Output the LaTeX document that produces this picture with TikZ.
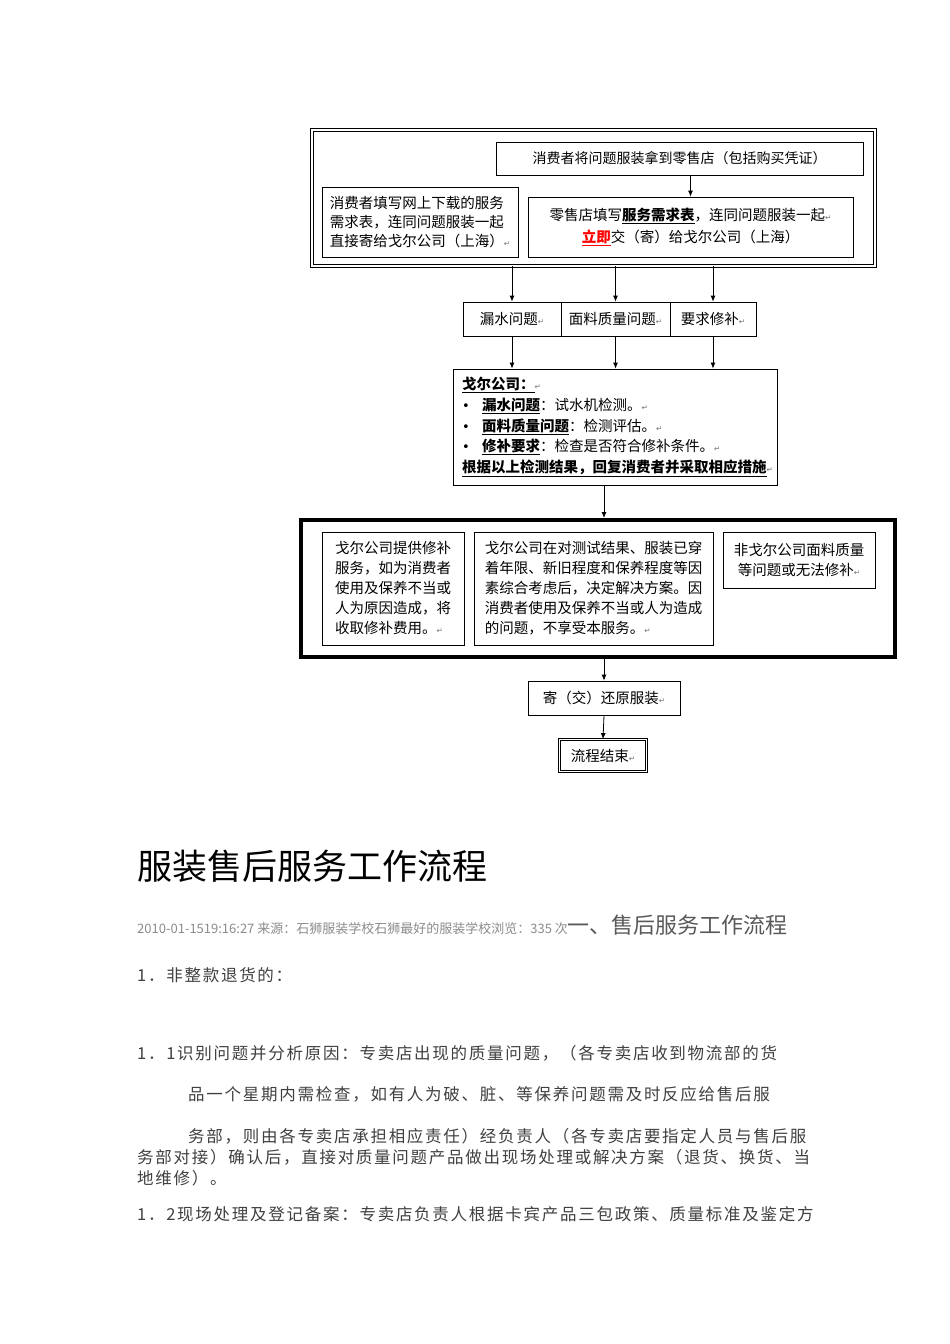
\documentclass[tikz,border=0pt]{standalone}
\usepackage{fontspec}
\setmainfont{Noto Sans CJK SC}
\newfontfamily\symfont{DejaVu Sans}
\newfontfamily\bodyfont[LetterSpace=10.5]{Noto Sans CJK SC}
\usetikzlibrary{arrows.meta,calc}
\newcommand\pmark{{\symfont\fontsize{7.5}{7.5}\selectfont\textcolor{black!55}{↵}}}
\newcommand\bul{\makebox[20pt][l]{\symfont\fontsize{13}{13}\selectfont •}}
\begin{document}
\begin{tikzpicture}[x=1pt,y=-1pt,
  box/.style={draw, line width=0.8pt, inner sep=0pt, font=\fontsize{14.5}{20}\selectfont},
  arr/.style={-{Latex[length=6pt,width=5pt]}, line width=0.8pt},
  body/.style={anchor=base west, inner sep=0pt, text=black!75, font=\bodyfont\fontsize{16.5}{16.5}\selectfont}]
\fill[white] (0,0) rectangle (950,1344);
\useasboundingbox (0,0) rectangle (950,1344);

% top double frame
\node[draw, double, double distance=2pt, line width=0.9pt, minimum width=563pt, minimum height=136pt, inner sep=0pt] (top) at (593.5,198) {};
\node[box, minimum width=367pt, minimum height=33pt, font=\fontsize{14}{20}\selectfont] (A) at (679.5,158.5) {消费者将问题服装拿到零售店（包括购买凭证）};
\node[box, minimum width=196pt, minimum height=70pt, align=left, font=\fontsize{14.5}{19}\selectfont] (B) at (420,222)
  {消费者填写网上下载的服务\\需求表，连同问题服装一起\\直接寄给戈尔公司（上海）\pmark};
\node[box, minimum width=325pt, minimum height=60pt, align=center, font=\fontsize{14.5}{22}\selectfont] (C) at (690.5,227)
  {零售店填写\underline{\textbf{服务需求表}}，连同问题服装一起\pmark\\\textcolor{red}{\underline{\textbf{立即}}}交（寄）给戈尔公司（上海）};
\draw[arr] (A.south -| C.north) -- (C.north);

% three problem types
\node[box, minimum width=98pt, minimum height=34pt] (P1) at (512,319) {漏水问题\pmark};
\node[box, minimum width=109pt, minimum height=34pt] (P2) at (615.5,319) {面料质量问题\pmark};
\node[box, minimum width=86pt, minimum height=34pt] (P3) at (713,319) {要求修补\pmark};
\foreach \p in {P1,P2,P3}{\draw[arr] (\p.north |- top.south) -- (\p.north);}

% Gore box
\node[box, minimum width=324pt, minimum height=116pt, align=left, text width=306pt, font=\fontsize{14.5}{20.7}\selectfont] (gore) at (615,427)
  {\underline{\textbf{戈尔公司：}}\pmark\\
   \bul\underline{\textbf{漏水问题}}：试水机检测。\pmark\\
   \bul\underline{\textbf{面料质量问题}}：检测评估。\pmark\\
   \bul\underline{\textbf{修补要求}}：检查是否符合修补条件。\pmark\\
   \underline{\textbf{根据以上检测结果，回复消费者并采取相应措施}}\pmark};
\foreach \p in {P1,P2,P3}{\draw[arr] (\p.south) -- (\p.south |- gore.north);}

% thick frame with outcomes
\node[draw, line width=4pt, minimum width=594pt, minimum height=137pt, inner sep=0pt] (thick) at (598,588.5) {};
\node[box, minimum width=142pt, minimum height=113pt, align=left] (D) at (393,588.5)
  {戈尔公司提供修补\\服务，如为消费者\\使用及保养不当或\\人为原因造成，将\\收取修补费用。\pmark};
\node[box, minimum width=239pt, minimum height=113pt, align=left] (E) at (593.5,588.5)
  {戈尔公司在对测试结果、服装已穿\\着年限、新旧程度和保养程度等因\\素综合考虑后，决定解决方案。因\\消费者使用及保养不当或人为造成\\的问题，不享受本服务。\pmark};
\node[box, minimum width=152pt, minimum height=56pt, align=center] (F) at (799,560)
  {非戈尔公司面料质量\\等问题或无法修补\pmark};

% ending
\node[box, minimum width=152pt, minimum height=34pt] (G) at (604,698) {寄（交）还原服装\pmark};
\node[draw, double, double distance=1.4pt, line width=0.7pt, inner sep=0pt, minimum width=87pt, minimum height=32pt, font=\fontsize{14.5}{20}\selectfont] (H) at (603,755.5) {流程结束\pmark};
\draw[arr] (G.north |- gore.south) -- (G.north |- thick.north);
\draw[arr] (thick.south -| G.north) -- (G.north);
\draw[arr] (G.south) -- (H.north);

% text below
\node[anchor=base west, inner sep=0pt, font=\fontsize{35}{35}\selectfont] (title) at (137,879) {服装售后服务工作流程};
\node[anchor=base west, inner sep=0pt, text=black!45] (meta) at (137,933)
  {\fontsize{13}{13}\selectfont 2010-01-1519:16:27 来源：石狮服装学校石狮最好的服装学校浏览：335 次\fontsize{22}{22}\selectfont\textcolor{black!65}{一、售后服务工作流程}};
\node[body] (l1) at (137,981) {1．非整款退货的：};
\node[body] (l2) at (137,1059) {1．1识别问题并分析原因：专卖店出现的质量问题，（各专卖店收到物流部的货};
\node[body] (l3) at (188,1100) {品一个星期内需检查，如有人为破、脏、等保养问题需及时反应给售后服};
\node[body] (l4) at (188,1142) {务部，则由各专卖店承担相应责任）经负责人（各专卖店要指定人员与售后服};
\node[body] (l5) at (137,1163) {务部对接）确认后，直接对质量问题产品做出现场处理或解决方案（退货、换货、当};
\node[body] (l6) at (137,1184) {地维修）。};
\node[body] (l7) at (137,1220) {1．2现场处理及登记备案：专卖店负责人根据卡宾产品三包政策、质量标准及鉴定方};
\end{tikzpicture}
\end{document}
